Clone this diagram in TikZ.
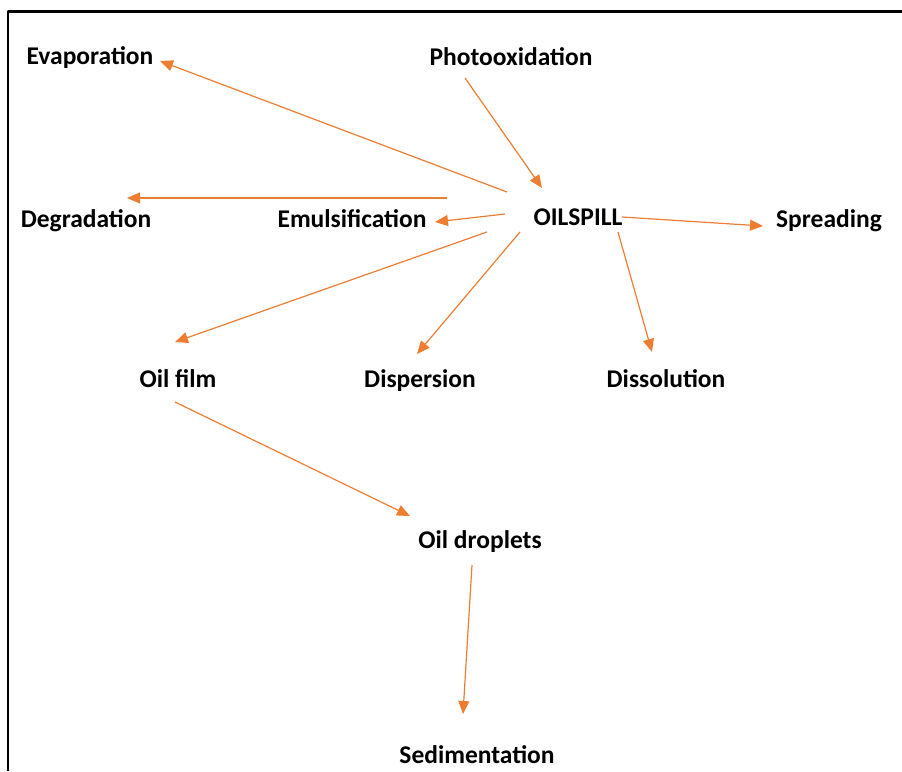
\documentclass[tikz,border=0pt]{standalone}
\usepackage{fontspec}
\setmainfont{Carlito}
\usetikzlibrary{arrows.meta}
\definecolor{flowor}{HTML}{ED7D31}
\begin{document}
\begin{tikzpicture}[x=1pt,y=-1pt,line join=round,
 lbl/.style={anchor=base,inner sep=0pt,font=\fontsize{25.5}{30}\selectfont\bfseries},
 flow/.style={draw=flowor,line width=1.2pt,-{Triangle[length=13pt,width=11pt]}}]
 \useasboundingbox (0,0) rectangle (902,771);
 \draw[line width=2.5pt] (8,771)--(8,11.5)--(902,11.5);
 % labels
 \node[lbl] (evap) at (90,64) {Evaporation};
 \node[lbl] (photo) at (511,65) {Photooxidation};
 \node[lbl] (degr) at (86,227) {Degradation};
 \node[lbl] (emul) at (352,227) {Emulsification};
 \node[lbl] (oil) at (578,225) {OILSPILL};
 \node[lbl] (spread) at (829,227) {Spreading};
 \node[lbl] (film) at (178,387) {Oil film};
 \node[lbl] (disp) at (420,387) {Dispersion};
 \node[lbl] (diss) at (666,387) {Dissolution};
 \node[lbl] (drop) at (480,548) {Oil droplets};
 \node[lbl] (sed) at (477,763) {Sedimentation};
 % arrows
 \draw[flow] ([shift={(-71,-33)}]oil.base)--([shift={(70,-3)}]evap.base);
 \draw[flow] ([shift={(-46,13)}]photo.base)--([shift={(-36,-37)}]oil.base);
 \draw[flow] ([shift={(95,-29)}]emul.base)--([shift={(41,-29)}]degr.base);
 \draw[flow] ([shift={(-73,-11)}]oil.base)--([shift={(83,-5)}]emul.base);
 \draw[flow] ([shift={(44,-8)}]oil.base)--([shift={(-66,-1)}]spread.base);
 \draw[flow] ([shift={(-91,7)}]oil.base)--([shift={(-3,-45)}]film.base);
 \draw[flow] ([shift={(-58,7)}]oil.base)--([shift={(-3,-33)}]disp.base);
 \draw[flow] ([shift={(40,7)}]oil.base)--([shift={(-14,-35)}]diss.base);
 \draw[flow] ([shift={(-3,15)}]film.base)--([shift={(-70,-32)}]drop.base);
 \draw[flow] ([shift={(-8,17)}]drop.base)--([shift={(-14,-49)}]sed.base);
\end{tikzpicture}
\end{document}
